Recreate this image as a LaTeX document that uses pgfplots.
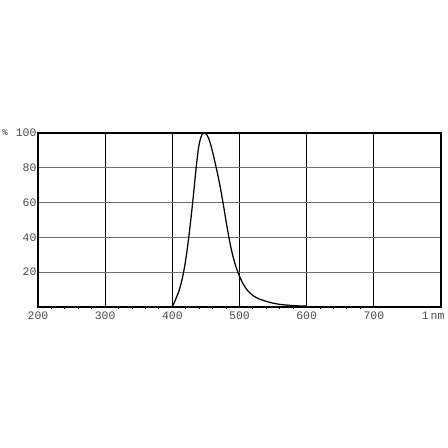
\documentclass[border=0pt]{standalone}
\usepackage{fontspec}
\setmainfont{Liberation Sans}
\setmonofont{Liberation Mono}
\usepackage{pgfplots}
\pgfplotsset{compat=1.18}
\definecolor{lbl}{HTML}{4A4A4A}
\definecolor{grd}{HTML}{707070}
\begin{document}
\begin{tikzpicture}[x=1bp,y=1bp]
\path[use as bounding box] (0,0) rectangle (448,448);
\begin{axis}[
    at={(38bp,141bp)}, anchor=south west,
    scale only axis, width=403bp, height=174bp,
    xmin=200, xmax=800, ymin=0, ymax=100,
    xtick={200,300,...,700}, ytick={20,40,60,80,100},
    minor x tick num=4,
    tick pos=left,
    tick align=outside,
    major tick length=0bp, minor tick length=2bp,
    grid=major,
    x grid style={black, line width=0.7bp},
    y grid style={grd, line width=0.8bp},
    axis line style={black, line width=1.3bp},
    every tick/.style={black, line width=1bp},
    /pgf/number format/assume math mode=true,
    /pgf/number format/1000 sep={},
    tick label style={font=\ttfamily\fontsize{11.5}{11.5}\selectfont, text=lbl},
    xticklabel style={yshift=-1bp},
    yticklabel style={xshift=2bp},
    extra x ticks={800},
    extra x tick labels={1\,nm},
    extra x tick style={grid=none, xticklabel style={anchor=north east, xshift=7bp}},
    clip=false,
]
% spectrum
\addplot[black, line width=1.25bp, line join=round, smooth, tension=0.3] coordinates {
 (399,0) (401,1) (403,2.6) (406,5.5) (409,8.3) (412,12) (415,16.7) (418,22.6)
 (421,30) (424,38.6) (427,48.5) (430,59) (433,70.5) (436,82) (439,91.5)
 (442,97) (445,99.6) (448,100) (451,99.2) (454,97) (457,93.5) (460,89)
 (463,84) (466,79) (469,73.5) (472,67.5) (475,61) (478,54) (481,47)
 (484,40.5) (487,34.5) (490,29.5) (493,25.3) (496,21.7) (499,18.6)
 (502,15.9) (505,13.6) (508,11.6) (512,9.5) (516,7.9) (520,6.6) (525,5.4)
 (530,4.5) (540,3.2) (550,2.2) (560,1.5) (570,1.1) (580,0.8) (590,0.6) (600,0.5)
};
\node[font=\ttfamily\fontsize{9}{9}\selectfont, text=lbl] at (rel axis cs:0,1) [xshift=-33bp] {\%};
\end{axis}
\end{tikzpicture}
\end{document}
